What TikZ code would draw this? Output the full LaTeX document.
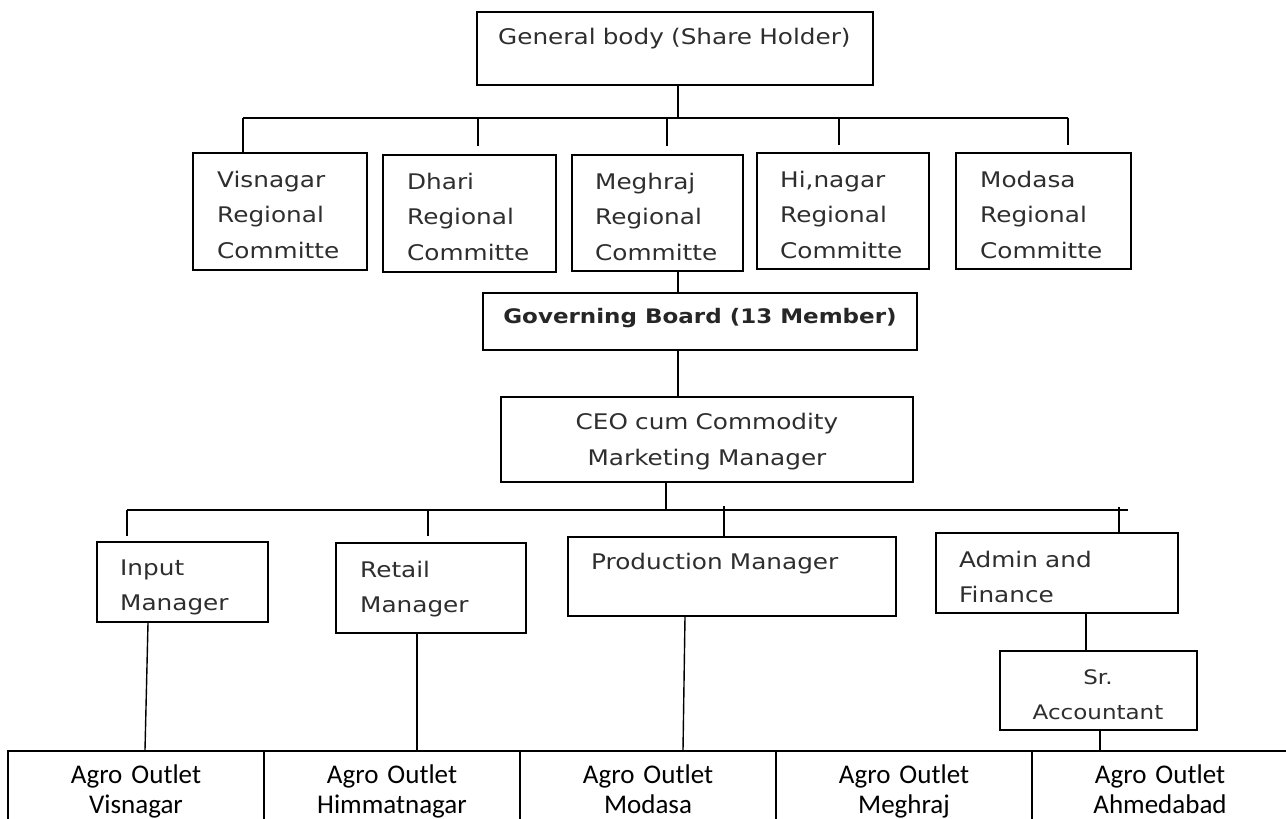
\documentclass[tikz,border=0pt]{standalone}
\usepackage{fontspec}
\newfontfamily\dv[FakeStretch=1.15]{DejaVu Sans}
\newfontfamily\cb{Carlito}
\tikzset{
  box/.style={draw, line width=2.4pt, rectangle, inner sep=0pt},
  cell/.style={draw, line width=2pt, rectangle, inner sep=0pt, minimum width=256pt, minimum height=90pt},
  conn/.style={line width=2.2pt},
  thin/.style={line width=1.4pt},
  btxt/.style={anchor=base west, inner sep=0pt, text width=220pt, align=left, text=black!82,
     font=\dv\fontsize{21.5}{35.5}\selectfont},
  ctxt/.style={anchor=base, inner sep=0pt, text width=400pt, align=center, text=black!82,
     font=\dv\fontsize{21.5}{36}\selectfont},
  ttxt/.style={anchor=base, inner sep=0pt, text width=250pt, align=center, text=black,
     font=\cb\fontsize{27}{30}\selectfont}
}
\begin{document}
\begin{tikzpicture}[x=1pt,y=-1pt]
\useasboundingbox (0,0) rectangle (1286,819);
\clip (0,0) rectangle (1286,819);
\fill[white] (0,0) rectangle (1286,819);

% top box
\node[box, minimum width=396pt, minimum height=73pt] (gb) at (675,48.5) {};
\node[btxt, text width=380pt] (gbt) at (498,45) {General body (Share Holder)};

% regional committees
\node[box, minimum width=174pt, minimum height=117pt] (v) at (280,211.5) {};
\node[box, minimum width=173pt, minimum height=117pt] (d) at (469.5,213.5) {};
\node[box, minimum width=171pt, minimum height=116pt] (m) at (657.5,213) {};
\node[box, minimum width=172pt, minimum height=116pt] (h) at (843,211) {};
\node[box, minimum width=175pt, minimum height=116pt] (mo) at (1043.5,211) {};
\node[btxt] (vt) at (217,187) {Visnagar\\Regional\\Committe};
\node[btxt] (dt) at (407,189) {Dhari\\Regional\\Committe};
\node[btxt] (mt) at (595,189) {Meghraj\\Regional\\Committe};
\node[btxt] (ht) at (780,187) {Hi,nagar\\Regional\\Committe};
\node[btxt] (mot) at (980,187) {Modasa\\Regional\\Committe};

% upper bus
\coordinate (c678) at (678,0);
\coordinate (ubL) at (243,118);
\coordinate (ubR) at (1068,118);
\coordinate (ub1) at (678,118);
\coordinate (ud) at (478,118);   \coordinate (ude) at (478,146);
\coordinate (um) at (667,118);   \coordinate (ume) at (667,146);
\coordinate (uh) at (839,118);   \coordinate (uhe) at (839,145);
\coordinate (umoe) at (1068,145);
\draw[conn] (gb.south -| c678) -- (ub1);
\draw[conn] (ubL) -- (ubR);
\draw[conn] (ubL) -- (v.north -| ubL);
\draw[conn] (ud) -- (ude);
\draw[conn] (um) -- (ume);
\draw[conn] (uh) -- (uhe);
\draw[conn] (ubR) -- (umoe);

% governing board
\node[box, minimum width=434pt, minimum height=57pt] (gov) at (700,321.5) {};
\node[anchor=base, inner sep=0pt, text=black!85, font=\dv\bfseries\fontsize{20}{24}\selectfont] (govt) at (700,323) {Governing Board (13 Member)};
\draw[conn] (m.south -| c678) -- (gov.north -| c678);

% CEO
\node[box, minimum width=412pt, minimum height=85pt] (ceo) at (707,439.5) {};
\node[ctxt] (ceot) at (707,429) {CEO cum Commodity\\Marketing Manager};
\draw[conn] (gov.south -| c678) -- (ceo.north -| c678);

% lower bus
\coordinate (lb0) at (666,510);
\coordinate (lbL) at (127,510);
\coordinate (lbR) at (1128,510);
\coordinate (lbLe) at (127,536);
\coordinate (lr) at (428,510);  \coordinate (lre) at (428,536);
\coordinate (lp) at (724,506);
\coordinate (la) at (1119,507);
\draw[conn] (ceo.south -| lb0) -- (lb0);
\draw[conn] (lbL) -- (lbR);
\draw[conn] (lbL) -- (lbLe);
\draw[conn] (lr) -- (lre);

% managers
\node[box, minimum width=171pt, minimum height=80pt] (inp) at (182.5,582) {};
\node[box, minimum width=190pt, minimum height=90pt] (ret) at (431,588) {};
\node[box, minimum width=328pt, minimum height=79pt] (prod) at (732,576.5) {};
\node[box, minimum width=242pt, minimum height=80pt] (adm) at (1057,573) {};
\node[btxt] (inpt) at (120,575) {Input\\Manager};
\node[btxt] (rett) at (360,577) {Retail\\Manager};
\node[btxt, text width=300pt] (prodt) at (591,569) {Production Manager};
\node[btxt] (admt) at (959,567) {Admin and\\Finance};
\draw[conn] (lp) -- (prod.north -| lp);
\draw[conn] (la) -- (adm.north -| la);

% Sr accountant
\node[box, minimum width=197pt, minimum height=79pt] (sr) at (1098.5,690.5) {};
\node[ctxt, text width=190pt, font=\dv\fontsize{20}{35}\selectfont] (srt) at (1098,684) {Sr.\\Accountant};
\coordinate (ca) at (1086,0);
\coordinate (cs) at (1100,0);
\draw[line width=1.8pt] (adm.south -| ca) -- (sr.north -| ca);

% table
\node[cell] (t1) at (136,796) {};
\node[cell] (t2) at (392,796) {};
\node[cell] (t3) at (648,796) {};
\node[cell] (t4) at (904,796) {};
\node[cell] (t5) at (1160,796) {};
\node[ttxt] (t1t) at (136,783) {Agro Outlet\\Visnagar};
\node[ttxt] (t2t) at (392,783) {Agro Outlet\\Himmatnagar};
\node[ttxt] (t3t) at (648,783) {Agro Outlet\\Modasa};
\node[ttxt] (t4t) at (904,783) {Agro Outlet\\Meghraj};
\node[ttxt] (t5t) at (1160,783) {Agro Outlet\\Ahmedabad};

% manager to outlet connectors
\coordinate (i1) at (148,0); \coordinate (i2) at (145,0);
\coordinate (r1) at (417,0);
\coordinate (p1) at (685,0); \coordinate (p2) at (683,0);
\draw[thin] (inp.south -| i1) -- (t1.north -| i2);
\draw[thin] (ret.south -| r1) -- (t2.north -| r1);
\draw[thin] (prod.south -| p1) -- (t3.north -| p2);
\draw[thin] (sr.south -| cs) -- (t5.north -| cs);
\end{tikzpicture}
\end{document}
